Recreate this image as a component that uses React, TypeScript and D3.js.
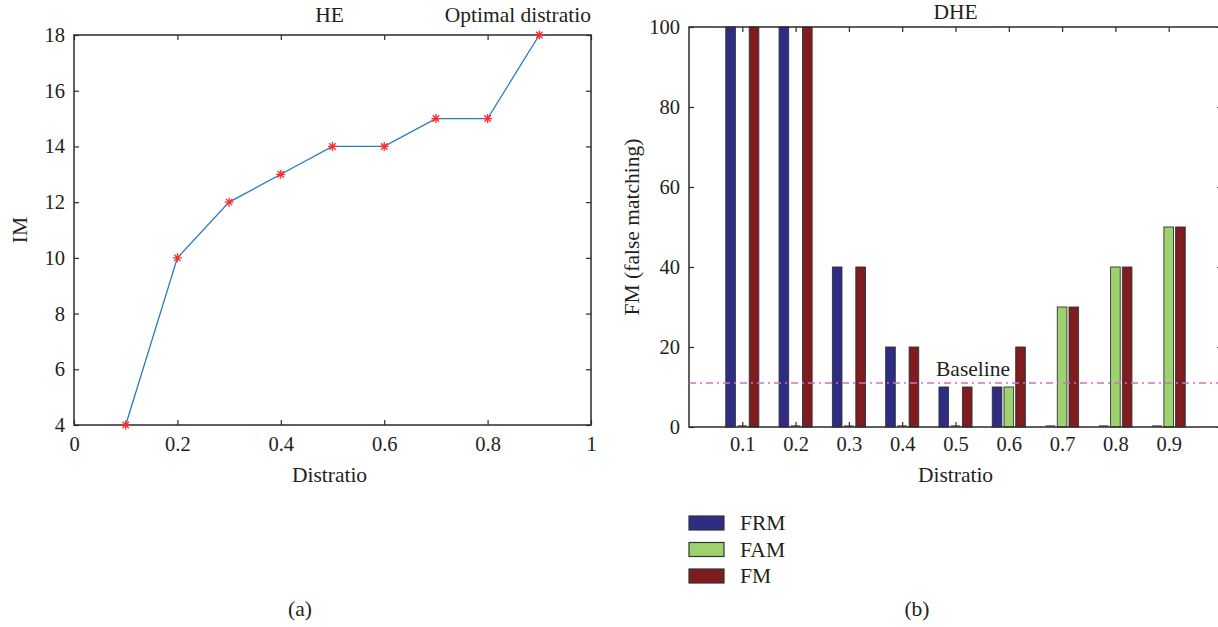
import React, { useEffect, useRef } from 'react';
import * as d3 from 'd3';

// panel (a): HE
const distratio = [0.1, 0.2, 0.3, 0.4, 0.5, 0.6, 0.7, 0.8, 0.9];
const imValues = [4, 10, 12, 13, 14, 14, 15, 15, 18];
const xTicksA = [0, 0.2, 0.4, 0.6, 0.8, 1];
const yTicksA = [4, 6, 8, 10, 12, 14, 16, 18];

// panel (b): DHE
const categories = ['0.1', '0.2', '0.3', '0.4', '0.5', '0.6', '0.7', '0.8', '0.9'];
const frmValues = [100, 100, 40, 20, 10, 10, 0, 0, 0];
const famValues = [0, 0, 0, 0, 0, 10, 30, 40, 50];
const fmValues = [100, 100, 40, 20, 10, 20, 30, 40, 50];
const yTicksB = [0, 20, 40, 60, 80, 100];
const seriesNames = ['FRM', 'FAM', 'FM'];
const seriesColors = ['#2d2e83', '#9dd26f', '#7e1c1f'];
const baselineValue = 11;

const W = 1218;
const H = 627;
const FONT = "'Liberation Serif', 'Times New Roman', serif";
const INK = '#231f20';
const AXIS = '#2b2b2b';

const App: React.FC = () => {
  const svgRef = useRef<SVGSVGElement>(null);

  useEffect(() => {
    if (!svgRef.current) return;
    const svg = d3.select(svgRef.current);
    svg.selectAll('*').remove();

    const styleAxis = (g: any) => {
      g.select('.domain').remove();
      g.selectAll('line').attr('stroke', AXIS).attr('stroke-width', 1.2);
      g.selectAll('text').attr('fill', INK).style('font-family', FONT).style('font-size', '20.5px');
      g.attr('font-family', null).attr('font-size', null);
    };

    const text = (x: number, y: number, s: string, anchor = 'middle', rotate = false) => {
      const t = svg.append('text')
        .attr('text-anchor', anchor)
        .style('font-family', FONT)
        .style('font-size', '21.5px')
        .attr('fill', INK)
        .text(s);
      if (rotate) t.attr('transform', `translate(${x},${y}) rotate(-90)`);
      else t.attr('x', x).attr('y', y);
      return t;
    };

    // ---------- panel (a) ----------
    const a = { left: 74, right: 591, top: 35, bottom: 425 };
    const xA = d3.scaleLinear().domain([0, 1]).range([a.left, a.right]);
    const yA = d3.scaleLinear().domain([4, 18]).range([a.bottom, a.top]);

    svg.append('g').attr('transform', `translate(0,${a.bottom})`)
      .call(d3.axisBottom(xA).tickValues(xTicksA).tickSize(-5).tickPadding(11).tickFormat(d => d3.format('~g')(d as number)))
      .call(styleAxis);
    svg.append('g').attr('transform', `translate(0,${a.top})`)
      .call(d3.axisTop(xA).tickValues(xTicksA).tickSize(-5).tickFormat(() => ''))
      .call(styleAxis);
    svg.append('g').attr('transform', `translate(${a.left},0)`)
      .call(d3.axisLeft(yA).tickValues(yTicksA).tickSize(-5).tickPadding(9))
      .call(styleAxis);
    svg.append('g').attr('transform', `translate(${a.right},0)`)
      .call(d3.axisRight(yA).tickValues(yTicksA).tickSize(-5).tickFormat(() => ''))
      .call(styleAxis);

    svg.append('rect')
      .attr('x', a.left).attr('y', a.top)
      .attr('width', a.right - a.left).attr('height', a.bottom - a.top)
      .attr('fill', 'none').attr('stroke', AXIS).attr('stroke-width', 1.5);

    const line = d3.line<number>()
      .x((_d, i) => xA(distratio[i]))
      .y(d => yA(d));
    svg.append('path')
      .datum(imValues)
      .attr('d', line)
      .attr('fill', 'none')
      .attr('stroke', '#2a7bbf')
      .attr('stroke-width', 1.3);

    const r = 4.5;
    const k = r * 0.72;
    const star = `M${-r},0H${r}M0,${-r}V${r}M${-k},${-k}L${k},${k}M${-k},${k}L${k},${-k}`;
    svg.append('g').selectAll('path')
      .data(imValues)
      .enter().append('path')
      .attr('transform', (d, i) => `translate(${xA(distratio[i])},${yA(d)})`)
      .attr('d', star)
      .attr('stroke', '#ff2a2a')
      .attr('stroke-width', 1.3)
      .attr('fill', 'none');

    text((a.left + a.right) / 2 - 3, 22, 'HE');
    text(a.right, 22, 'Optimal distratio', 'end');
    text(27, (a.top + a.bottom) / 2, 'IM', 'middle', true);
    text((a.left + a.right) / 2 - 3, 482, 'Distratio');
    text(300, 616, '(a)');

    // ---------- panel (b) ----------
    const b = { left: 689, right: 1222, top: 27, bottom: 427 };
    const xB = d3.scaleLinear().domain([0, 1]).range([b.left, b.right]);
    const yB = d3.scaleLinear().domain([0, 100]).range([b.bottom, b.top]);
    const catVals = categories.map(Number);

    svg.append('g').attr('transform', `translate(0,${b.bottom})`)
      .call(d3.axisBottom(xB).tickValues(catVals).tickSize(-5).tickPadding(9).tickFormat((_d, i) => categories[i]))
      .call(styleAxis);
    svg.append('g').attr('transform', `translate(0,${b.top})`)
      .call(d3.axisTop(xB).tickValues(catVals).tickSize(-5).tickFormat(() => ''))
      .call(styleAxis);
    svg.append('g').attr('transform', `translate(${b.left},0)`)
      .call(d3.axisLeft(yB).tickValues(yTicksB).tickSize(-5).tickPadding(9))
      .call(styleAxis);
    svg.append('g').attr('transform', `translate(${b.right},0)`)
      .call(d3.axisRight(yB).tickValues(yTicksB).tickSize(-5).tickFormat(() => ''))
      .call(styleAxis);

    const step = xB(0.1) - xB(0);
    const inner = d3.scaleBand<string>()
      .domain(seriesNames)
      .range([-step * 0.33, step * 0.33])
      .paddingInner(0.18)
      .paddingOuter(0.09);
    const seriesValues = [frmValues, famValues, fmValues];

    const rows = categories.flatMap((c, i) =>
      seriesNames.map((s, j) => ({ cat: catVals[i], series: s, value: seriesValues[j][i], color: seriesColors[j] })));

    const bars = svg.append('g');
    bars.selectAll('rect')
      .data(rows.filter(d => d.value > 0))
      .enter().append('rect')
      .attr('x', d => xB(d.cat) + (inner(d.series) as number))
      .attr('y', d => yB(d.value))
      .attr('width', inner.bandwidth())
      .attr('height', d => yB(0) - yB(d.value))
      .attr('fill', d => d.color)
      .attr('stroke', '#333')
      .attr('stroke-width', 0.9);
    bars.selectAll('line')
      .data(rows.filter(d => d.value === 0))
      .enter().append('line')
      .attr('x1', d => xB(d.cat) + (inner(d.series) as number))
      .attr('x2', d => xB(d.cat) + (inner(d.series) as number) + inner.bandwidth())
      .attr('y1', yB(0) - 1)
      .attr('y2', yB(0) - 1)
      .attr('stroke', '#333')
      .attr('stroke-width', 1.2);

    svg.append('rect')
      .attr('x', b.left).attr('y', b.top)
      .attr('width', b.right - b.left).attr('height', b.bottom - b.top)
      .attr('fill', 'none').attr('stroke', AXIS).attr('stroke-width', 1.5);

    svg.append('line')
      .attr('x1', b.left).attr('x2', b.right)
      .attr('y1', yB(baselineValue)).attr('y2', yB(baselineValue))
      .attr('stroke', '#c577bd')
      .attr('stroke-width', 1.3)
      .attr('stroke-dasharray', '7,4,2,4');
    text(936, 376, 'Baseline', 'start');

    text((b.left + b.right) / 2, 19, 'DHE');
    text(639, (b.top + b.bottom) / 2, 'FM (false matching)', 'middle', true);
    text((b.left + b.right) / 2, 482, 'Distratio');
    text(917, 616, '(b)');

    // legend
    const legend = svg.append('g').attr('transform', 'translate(689,516)');
    seriesNames.forEach((s, i) => {
      legend.append('rect')
        .attr('x', 0).attr('y', i * 26.5)
        .attr('width', 35).attr('height', 14)
        .attr('fill', seriesColors[i])
        .attr('stroke', '#333').attr('stroke-width', 1.2);
      legend.append('text')
        .attr('x', 51).attr('y', i * 26.5 + 14)
        .style('font-family', FONT).style('font-size', '21.5px')
        .attr('fill', INK)
        .text(s);
    });
  }, []);

  return (
    <svg
      ref={svgRef}
      width={W}
      height={H}
      style={{ position: 'absolute', left: 0, top: 0, background: '#fff' }}
    />
  );
};

export default App;
